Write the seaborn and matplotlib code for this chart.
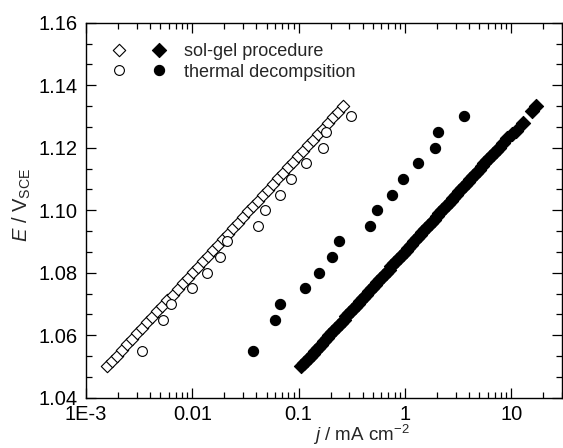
import numpy as np
import pandas as pd
import matplotlib
matplotlib.use("Agg")
import matplotlib.pyplot as plt
import seaborn as sns
from matplotlib.ticker import FixedLocator, FuncFormatter, LogLocator, AutoMinorLocator, NullFormatter
from matplotlib.legend_handler import HandlerTuple

# ---------------- data ----------------
# sol-gel procedure, open diamonds
E_sg_open = [1.0500, 1.0518, 1.0535, 1.0553, 1.0571, 1.0589, 1.0606, 1.0624, 1.0642, 1.0659,
             1.0677, 1.0695, 1.0712, 1.0730, 1.0748, 1.0766, 1.0783, 1.0801, 1.0819, 1.0836,
             1.0854, 1.0872, 1.0889, 1.0907, 1.0925, 1.0943, 1.0960, 1.0978, 1.0996, 1.1013,
             1.1031, 1.1049, 1.1066, 1.1084, 1.1102, 1.1120, 1.1137, 1.1155, 1.1173, 1.1190,
             1.1208, 1.1226, 1.1243, 1.1261, 1.1279, 1.1297, 1.1314, 1.1332]
j_sg_open = [0.00158, 0.00176, 0.00197, 0.00219, 0.00244, 0.00272, 0.00304, 0.00339, 0.00378, 0.00421,
             0.00470, 0.00524, 0.00584, 0.00652, 0.00726, 0.00810, 0.00903, 0.01007, 0.01122, 0.01253,
             0.01396, 0.01556, 0.01738, 0.01936, 0.02158, 0.02404, 0.02685, 0.02992, 0.03334, 0.03724,
             0.04150, 0.04624, 0.05164, 0.05754, 0.06412, 0.07145, 0.07980, 0.08892, 0.09908, 0.1107,
             0.1233, 0.1374, 0.1535, 0.1710, 0.1905, 0.2123, 0.2371, 0.2642]

# sol-gel procedure, filled diamonds
E_sg_fill = [1.050, 1.051, 1.052, 1.053, 1.054, 1.055, 1.056, 1.057, 1.058, 1.059,
             1.060, 1.061, 1.062, 1.063, 1.064, 1.065, 1.066, 1.067, 1.068, 1.069,
             1.070, 1.071, 1.072, 1.073, 1.074, 1.075, 1.076, 1.077, 1.078, 1.079,
             1.080, 1.081, 1.082, 1.083, 1.084, 1.085, 1.086, 1.087, 1.088, 1.089,
             1.090, 1.091, 1.092, 1.093, 1.094, 1.095, 1.096, 1.097, 1.098, 1.099,
             1.100, 1.101, 1.102, 1.103, 1.104, 1.105, 1.106, 1.107, 1.108, 1.109,
             1.110, 1.111, 1.112, 1.113, 1.114, 1.115, 1.116, 1.117, 1.118, 1.119,
             1.120, 1.1215, 1.123, 1.1245, 1.1255, 1.128, 1.1318, 1.1335]
j_sg_fill = [0.1060, 0.1127, 0.1198, 0.1273, 0.1353, 0.1438, 0.1529, 0.1625, 0.1727, 0.1836,
             0.1951, 0.2074, 0.2204, 0.2343, 0.2490, 0.2647, 0.2813, 0.2990, 0.3178, 0.3378,
             0.3591, 0.3817, 0.4057, 0.4312, 0.4583, 0.4871, 0.5178, 0.5503, 0.5849, 0.6217,
             0.6608, 0.7024, 0.7466, 0.7936, 0.8435, 0.8965, 0.9529, 1.013, 1.077, 1.144,
             1.216, 1.293, 1.374, 1.461, 1.553, 1.650, 1.754, 1.864, 1.982, 2.106,
             2.239, 2.380, 2.529, 2.688, 2.857, 3.037, 3.228, 3.431, 3.647, 3.876,
             4.120, 4.383, 4.659, 4.952, 5.263, 5.594, 5.946, 6.320, 6.718, 7.140,
             7.589, 8.34, 9.20, 10.1, 11.1, 13.0, 15.6, 17.1]

# thermal decomposition
E_td = [1.055, 1.065, 1.070, 1.075, 1.080, 1.085, 1.090, 1.095, 1.100, 1.105,
        1.110, 1.115, 1.120, 1.125, 1.130]
j_td_open = [0.00334, 0.00525, 0.00624, 0.0100, 0.0136, 0.0182, 0.0214, 0.0412, 0.0487, 0.0664,
             0.0853, 0.118, 0.171, 0.180, 0.313]
j_td_fill = [0.0373, 0.0596, 0.0664, 0.114, 0.154, 0.206, 0.239, 0.465, 0.544, 0.758,
             0.953, 1.34, 1.93, 2.06, 3.57]

labels = ["sol-gel procedure", "thermal decompsition"]
xtick_vals = [1e-3, 1e-2, 1e-1, 1, 10]
xtick_labels = ["1E-3", "0.01", "0.1", "1", "10"]
ytick_vals = [1.04, 1.06, 1.08, 1.10, 1.12, 1.14, 1.16]

# ---------------- style ----------------
sns.set_style("ticks")
plt.rcParams["font.family"] = ["Liberation Sans", "DejaVu Sans"]
plt.rcParams["mathtext.fontset"] = "custom"
plt.rcParams["mathtext.rm"] = "Liberation Sans"
plt.rcParams["mathtext.it"] = "Liberation Sans:italic"
plt.rcParams["mathtext.bf"] = "Liberation Sans:bold"

W, H = 563, 448
fig = plt.figure(figsize=(W / 100, H / 100), dpi=100)
L, R, T, B = 86, 562, 22.7, 397.7
ax = fig.add_axes([L / W, 1 - B / H, (R - L) / W, (B - T) / H])

df_sg_o = pd.DataFrame({"j": j_sg_open, "E": E_sg_open})
df_sg_f = pd.DataFrame({"j": j_sg_fill, "E": E_sg_fill})
df_td_o = pd.DataFrame({"j": j_td_open, "E": E_td})
df_td_f = pd.DataFrame({"j": j_td_fill, "E": E_td})

sns.scatterplot(data=df_sg_o, x="j", y="E", marker="D", s=40, facecolor="white",
                edgecolor="black", linewidth=0.8, ax=ax, zorder=3)
sns.scatterplot(data=df_sg_f, x="j", y="E", marker="D", s=52, facecolor="black",
                edgecolor="black", linewidth=0.8, ax=ax, zorder=3)
sns.scatterplot(data=df_td_o, x="j", y="E", marker="o", s=50, facecolor="white",
                edgecolor="black", linewidth=0.8, ax=ax, zorder=3)
sns.scatterplot(data=df_td_f, x="j", y="E", marker="o", s=54, facecolor="black",
                edgecolor="black", linewidth=0.8, ax=ax, zorder=3)

c0, c1, c2, c3 = ax.collections[:4]

ax.set_xscale("log")
ax.set_xlim(1e-3, 30)
ax.set_ylim(1.04, 1.16)

ax.xaxis.set_major_locator(FixedLocator(xtick_vals))
ax.xaxis.set_major_formatter(FuncFormatter(lambda v, p: dict(zip(xtick_vals, xtick_labels)).get(v, "")))
ax.xaxis.set_minor_locator(LogLocator(base=10, subs=np.arange(2, 10), numticks=20))
ax.xaxis.set_minor_formatter(NullFormatter())
ax.yaxis.set_major_locator(FixedLocator(ytick_vals))
ax.yaxis.set_major_formatter(FuncFormatter(lambda v, p: f"{v:.2f}"))
ax.yaxis.set_minor_locator(AutoMinorLocator(3))

ax.tick_params(which="both", direction="in", top=True, right=True, colors="black", width=0.9)
ax.tick_params(which="major", length=7, labelsize=14.5, pad=6)
ax.tick_params(axis="x", which="major", pad=5)
ax.tick_params(which="minor", length=4)
for sp in ax.spines.values():
    sp.set_linewidth(1.0)
    sp.set_color("black")

ax.set_xlabel(r"$\mathit{j}$ / mA cm$^{-2}$", fontsize=13.5)
ax.set_ylabel(r"$\mathit{E}$ / V$_{\mathrm{SCE}}$", fontsize=14.5)
ax.xaxis.set_label_coords((361 - L) / (R - L), (B - 423) / (B - T))
ax.yaxis.set_label_coords((33 - L) / (R - L), (B - 205) / (B - T))

leg = ax.legend([(c0, c1), (c2, c3)], labels,
                handler_map={tuple: HandlerTuple(ndivide=None, pad=1.1)},
                loc="upper left", bbox_to_anchor=((109 - L) / (R - L), (B - 43) / (B - T)),
                frameon=False, fontsize=13, handlelength=3.33, handletextpad=0.83,
                borderpad=0, borderaxespad=0, labelspacing=0.2,
                scatterpoints=1, scatteryoffsets=[0.5])

fig.savefig("out.png", dpi=100)
